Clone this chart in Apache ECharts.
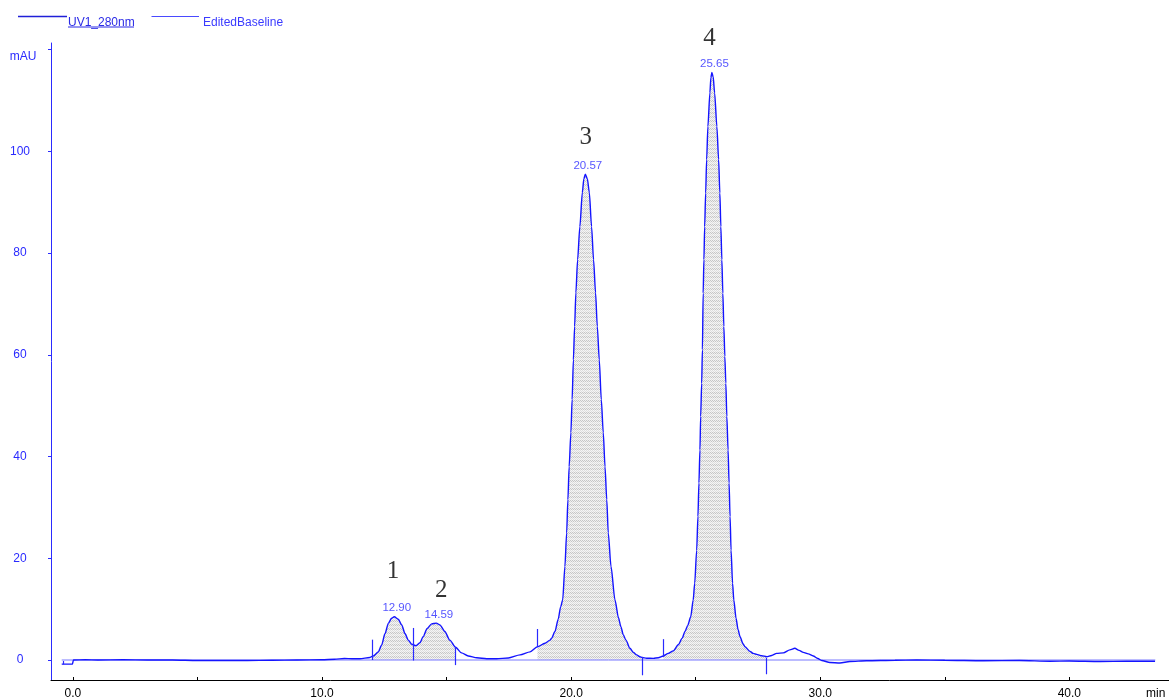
<!DOCTYPE html>
<html><head><meta charset="utf-8">
<script src="https://cdn.jsdelivr.net/npm/echarts@6/dist/echarts.min.js"></script>
<style>html,body{margin:0;padding:0;background:#fff}#c{width:1169px;height:700px}</style>
</head><body><div id="c"></div>
<script>
// ---------- data ----------
const timeMin = [
  -0.45, -0.02, 0.02, 0.5, 1, 2, 3, 4, 5, 6, 7, 8, 9, 10, 10.5, 10.9, 11.2, 11.52, 11.92, 12.0, 12.06,
  12.26, 12.39, 12.53, 12.66, 12.79, 12.9, 13.06, 13.2, 13.33, 13.46, 13.6, 13.77, 13.93, 14.06,
  14.22, 14.4, 14.59, 14.73, 14.93, 15.13, 15.36, 15.6, 15.87, 16.21, 16.61, 17.01, 17.48, 17.95,
  18.35, 18.65, 18.95, 19.15, 19.22, 19.35, 19.48, 19.58, 19.66, 19.75, 19.82, 19.87, 19.92, 19.99,
  20.04, 20.09, 20.14, 20.19, 20.26, 20.35, 20.45, 20.51, 20.57, 20.65, 20.73, 20.82, 20.9, 20.98,
  21.05, 21.13, 21.21, 21.29, 21.36, 21.43, 21.49, 21.6, 21.76, 21.9, 22.0, 22.09, 22.2, 22.36,
  22.5, 22.63, 22.76, 22.85, 23.03, 23.3, 23.5, 23.7, 23.9, 24.1, 24.3, 24.46, 24.57, 24.68, 24.8,
  24.9, 24.96, 25.04, 25.09, 25.13, 25.17, 25.2, 25.24, 25.27, 25.3, 25.33, 25.36, 25.4, 25.44,
  25.49, 25.57, 25.61, 25.65, 25.7, 25.76, 25.85, 25.92, 25.97, 26.01, 26.05, 26.09, 26.13, 26.17,
  26.21, 26.25, 26.3, 26.34, 26.38, 26.42, 26.48, 26.53, 26.62, 26.7, 26.78, 26.9, 26.98, 27.18,
  27.31, 27.45, 27.65, 27.85, 28.05, 28.25, 28.52, 28.78, 28.98, 29.15, 29.32, 29.52, 29.72, 29.9,
  30.06, 30.39, 30.79, 31.19, 31.86, 33.0, 33.87, 35.0, 36.54, 38.0, 39.22, 40.0, 41.23, 42.3, 43.44
];
const signalMAU = [
  -0.8, -0.8, 0.0, 0.05, 0.0, 0.05, 0.0, 0.0, -0.1, -0.1, -0.1, -0.05, 0.0, 0.05, 0.15, 0.3, 0.25, 0.26, 0.5, 0.7, 0.8,
  1.6, 2.9, 5.2, 7.2, 8.2, 8.5, 8.0, 6.9, 5.2, 3.9, 3.1, 2.8, 3.4, 4.6,
  6.2, 7.1, 7.25, 6.9, 5.6, 3.9, 2.5, 1.4, 0.8, 0.45, 0.26, 0.26, 0.4, 1.0,
  1.6, 2.6, 3.3, 3.9, 4.3, 5.6, 8.0, 10.5, 11.8, 18.4, 25.0, 31.5, 38.0, 44.7,
  51.2, 59.0, 65.6, 72.2, 78.7, 85.2, 91.9, 94.6, 95.5, 94.6, 91.9, 85.2, 78.7, 72.2,
  65.6, 59.0, 51.2, 44.7, 38.0, 31.5, 25.0, 18.4, 11.8, 8.3, 6.5, 5.0, 3.9, 2.3,
  1.5, 1.0, 0.65, 0.5, 0.35, 0.33, 0.45, 0.8, 1.3, 1.8, 3.0, 4.3, 5.6, 6.8, 8.5,
  11.8, 15.1, 21.6, 28.2, 34.8, 41.3, 47.9, 54.4, 61.0, 72.1, 78.7, 85.2, 91.8, 98.4,
  104.9, 111.5, 114.5, 115.5, 114.7, 111.5, 104.9, 98.4, 91.8, 85.2, 78.7, 72.1, 65.6, 59.7,
  54.4, 47.9, 41.3, 34.8, 28.2, 21.6, 15.1, 11.8, 8.2, 6.0, 4.6, 3.2, 2.6, 1.7,
  1.3, 1.1, 0.85, 0.65, 0.9, 1.3, 1.4, 2.0, 2.3, 1.9, 1.5, 1.2, 0.8, 0.3,
  -0.1, -0.5, -0.6, -0.3, -0.15, -0.05, 0.0, -0.05, -0.15, -0.1, -0.25, -0.2, -0.3, -0.25, -0.25
];
const baselineTime = [-0.45, 43.45];
const baselineMAU = [0, 0];
const peakTimes = [12.90, 14.59, 20.57, 25.65];
const peakHeights = [8.5, 7.25, 95.5, 115.5];
const peakTimeLabels = ['12.90', '14.59', '20.57', '25.65'];
const peakNumbers = ['1', '2', '3', '4'];
const integrationStart = [12.0, 18.65, 23.7];
const integrationEnd = [15.36, 22.85, 27.85];
const markerTimes = [-0.39, 12.0, 13.68, 15.36, 18.65, 22.84, 23.69, 27.83];
const markerFrom = [-0.85, 0.0, -0.1, -1.0, 2.6, -3.0, 0.6, -2.8];
const markerTo = [-0.2, 4.0, 6.3, 2.5, 6.1, 0.6, 4.1, 0.4];
const xLabelValues = [0, 10, 20, 30, 40];
const xTickValues = [0, 5, 10, 15, 20, 25, 30, 35, 40];
const yLabelValues = [0, 20, 40, 60, 80, 100, 120];
const seriesNames = ['UV1_280nm', 'EditedBaseline'];

// ---------- styles / layout ----------
const BLUE = '#1414ff';
const LABEL_BLUE = '#2a2aff';
const LEGEND_BLUE = '#2a2ae6';
const numberOffsets = [[-1.3, -45], [5, -33], [0.3, -37], [-2.3, -34]];

const pc = document.createElement('canvas');
pc.width = 4; pc.height = 4;
const pctx = pc.getContext('2d');
for (let y = 0; y < 4; y++) for (let x = 0; x < 4; x++) {
  if (y < 2) pctx.fillStyle = ((x + y) % 2 === 0) ? '#c6c6c6' : '#f0f0f0';
  else pctx.fillStyle = ((x + y) % 2 === 0) ? '#dedede' : '#f6f6f6';
  pctx.fillRect(x, y, 1, 1);
}

const curve = timeMin.map((t, i) => [t, signalMAU[i]]);
const fillSeries = integrationStart.map((s, k) => ({
  type: 'line', name: 'fill' + k, silent: true, z: 1,
  data: curve.filter(p => p[0] >= s && p[0] <= integrationEnd[k]),
  smooth: 0.25, smoothMonotone: 'x', symbol: 'none', showSymbol: false,
  lineStyle: { width: 0 },
  areaStyle: { color: { image: pc, repeat: 'repeat' }, opacity: 1 }
}));

const chart = echarts.init(document.getElementById('c'), null, { renderer: 'canvas' });
chart.setOption({
  animation: false,
  backgroundColor: '#fff',
  grid: { left: 51, right: 0, top: 43, bottom: 20 },
  graphic: [
    // legend
    { type: 'line', shape: { x1: 18, y1: 16.5, x2: 67, y2: 16.5 }, style: { stroke: '#2020d8', lineWidth: 1.6 } },
    { type: 'text', x: 68, y: 22.5, style: { text: seriesNames[0], fontSize: 12, fontFamily: 'Liberation Sans', fill: LEGEND_BLUE, verticalAlign: 'middle' } },
    { type: 'line', shape: { x1: 68, y1: 27, x2: 134, y2: 27 }, style: { stroke: LEGEND_BLUE, lineWidth: 1 } },
    { type: 'line', shape: { x1: 151.5, y1: 16.5, x2: 199, y2: 16.5 }, style: { stroke: '#4a4aff', lineWidth: 1 } },
    { type: 'text', x: 203, y: 22.5, style: { text: seriesNames[1], fontSize: 12, fontFamily: 'Liberation Sans', fill: '#3a3aff', verticalAlign: 'middle' } },
    // x unit
    { type: 'text', x: 1146, y: 688, style: { text: 'min', fontSize: 12, fontFamily: 'Liberation Sans', fill: '#000' } }
  ],
  xAxis: {
    type: 'value', min: -0.88, max: 44.0,
    axisLine: { onZero: false, lineStyle: { color: '#000', width: 1 } },
    axisTick: { show: true, customValues: xTickValues, inside: true, length: 3, lineStyle: { color: '#000' } },
    axisLabel: { customValues: xLabelValues, formatter: v => Number(v).toFixed(1), color: '#000',
      fontSize: 12, fontFamily: 'Liberation Sans', margin: 8 },
    splitLine: { show: false }
  },
  yAxis: {
    type: 'value', min: -3.93, max: 121.3,
    axisLine: { show: true, onZero: false, lineStyle: { color: '#2b2bff', width: 1 } },
    axisTick: { show: true, customValues: yLabelValues, length: 3, lineStyle: { color: '#2b2bff' } },
    axisLabel: {
      customValues: yLabelValues, align: 'center', margin: 31, color: LABEL_BLUE,
      fontSize: 12, fontFamily: 'Liberation Sans',
      formatter: v => (v === 120 ? '{u|mAU}' : String(v)),
      rich: { u: { color: LABEL_BLUE, fontSize: 12, fontFamily: 'Liberation Sans', padding: [14, 0, 0, 6] } }
    },
    splitLine: { show: false }
  },
  series: [
    ...fillSeries,
    {
      type: 'line', name: seriesNames[1], z: 2, silent: true,
      data: baselineTime.map((t, i) => [t, baselineMAU[i]]),
      symbol: 'none', showSymbol: false,
      lineStyle: { color: '#7878ff', width: 1 },
      markLine: {
        silent: true, symbol: ['none', 'none'], animation: false, z: 4,
        label: { show: false },
        lineStyle: { color: '#2a2aff', width: 1.2, type: 'solid', opacity: 1 },
        emphasis: { disabled: true },
        data: markerTimes.map((t, i) => [{ coord: [t, markerFrom[i]] }, { coord: [t, markerTo[i]] }])
      }
    },
    {
      type: 'line', name: seriesNames[0], z: 3, silent: true,
      data: curve, smooth: 0.25, smoothMonotone: 'x',
      symbol: 'none', showSymbol: false,
      lineStyle: { color: BLUE, width: 1.4 }
    },
    {
      type: 'scatter', name: 'peakTimes', z: 5, silent: true, symbolSize: 1,
      itemStyle: { color: 'rgba(0,0,0,0)' },
      data: peakTimes.map((t, i) => [t, peakHeights[i]]),
      label: { show: true, position: 'inside', offset: [2.5, -8.5], color: LABEL_BLUE,
        fontSize: 11.5, fontFamily: 'Liberation Sans',
        formatter: p => peakTimeLabels[p.dataIndex] }
    },
    {
      type: 'scatter', name: 'peakNumbers', z: 5, silent: true, symbolSize: 1,
      itemStyle: { color: 'rgba(0,0,0,0)' },
      data: peakTimes.map((t, i) => ({ value: [t, peakHeights[i]], label: { offset: numberOffsets[i] } })),
      label: { show: true, position: 'inside', color: '#000', fontSize: 25, fontFamily: 'Liberation Serif',
        formatter: p => peakNumbers[p.dataIndex] }
    }
  ]
});
</script>
</body></html>
